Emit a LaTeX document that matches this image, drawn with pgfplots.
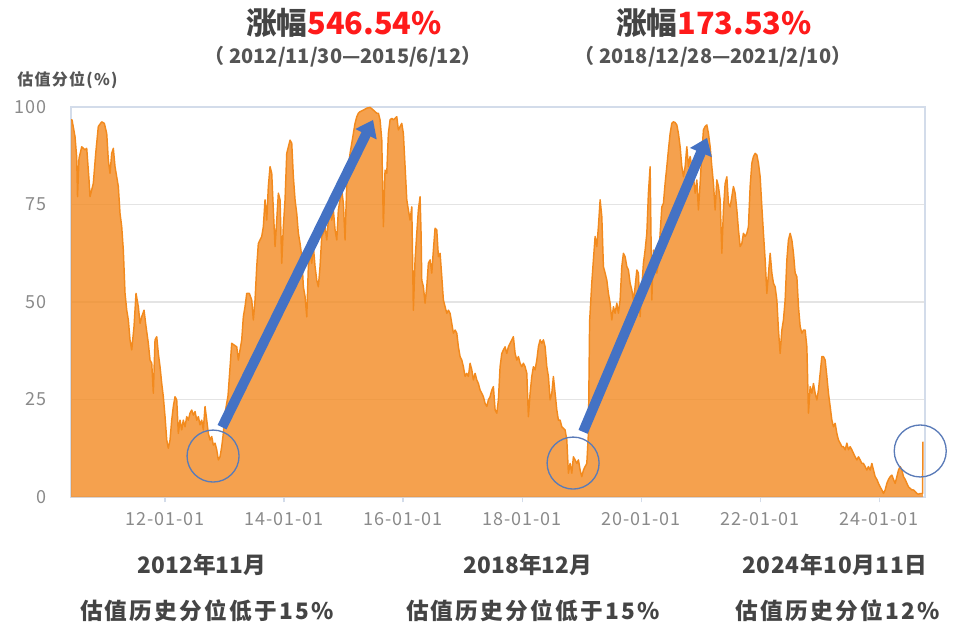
\documentclass[border=0pt]{standalone}
\usepackage{pgfplots}
\pgfplotsset{compat=1.18}
\usepackage{pgfplotstable}
\usetikzlibrary{arrows.meta}
\usepackage{fontspec}
\setmainfont{Noto Sans CJK SC}
\definecolor{lineor}{HTML}{F28A1E}
\definecolor{fillor}{HTML}{F28A22}
\definecolor{arrblue}{HTML}{4472C4}
\definecolor{circblue}{HTML}{5A7BB8}
\definecolor{txtgray}{HTML}{444444}
\definecolor{datgray}{HTML}{555555}
\definecolor{tickgray}{HTML}{8A8A8A}
\definecolor{gridgray}{HTML}{E4E4E4}
\definecolor{axblue}{HTML}{D3DCEA}
\definecolor{titred}{HTML}{FF1A1A}

% px = horizontal position (165 = 2012-01-01, 59.5 per year), v = percentile
\pgfplotstableread{
px v
71 96.7
72 96.7
75 92.4
76.7 87.0
77.5 77.0
79 86.8
81.7 89.8
85 89.0
86.7 89.4
89 81.3
90 77.0
93.3 80.4
95.7 88.1
98.3 95.0
101.7 96.2
104.3 95.8
106.7 93.2
108.3 86.4
110 83.0
111.7 88.1
113.3 89.4
115 84.7
116.7 82.1
118.3 79.6
120 72.7
121.7 69.3
123.3 63.3
125 52.2
126.7 47.9
128.3 45.4
130 40.3
131.7 37.7
134 43.7
136 52.2
138.3 48.8
140 44.5
141.7 46.2
144 47.9
146 43.7
148.3 39.4
150 35.1
151.7 34.3
153.3 26.6
155 40.3
156.7 41.1
158.3 36.8
160 33.4
161.7 29.1
163.3 25.7
165 20.6
166.7 14.6
168.3 12.5
170 14.6
171.7 19.7
173.3 23.2
175 25.7
176.7 24.9
178.3 16.3
180 19.7
181.7 17.2
183.3 19.7
185 18.0
186.7 20.6
188.3 19.7
190 21.5
191.7 22.3
193.3 21.0
195 21.9
196.7 19.7
198.3 20.6
200 18.5
201.7 19.7
203.3 17.2
205 23.2
206.7 19.7
208.3 16.3
210 14.6
211.7 15.5
213.3 13.3
215 13.8
216.7 12.1
218.3 9.5
220 10.3
221.7 12.9
223.3 16.3
225 21.5
228 26.0
231.7 39.4
236.7 38.5
238.3 35.1
241.7 40.3
243.3 46.2
245 48.8
246.7 52.2
249.3 52.2
251.7 50.5
253.3 45.4
255 50.5
256.7 59.1
258.3 65.0
260 65.9
261.7 66.8
263.3 69.3
265 76.2
266.7 71.0
268.3 79.6
270 84.7
271.7 83.0
273.3 73.6
275 64.2
276.7 71.0
278.3 77.9
280 76.2
281.7 59.9
283.3 69.3
285 76.2
286.7 88.1
290 91.5
291.7 90.7
293.3 82.1
295 76.2
296.7 72.7
298.3 67.6
300 65.0
301.7 61.6
303.3 53.9
305 51.4
306.7 46.2
308.3 59.1
310 62.5
311.7 59.9
313.3 64.2
315 59.1
316.7 55.6
318.3 53.9
320 59.1
321.7 66.8
323.3 67.6
325 69.3
326.7 65.9
328.3 71.0
330 72.7
331.7 71.0
333.3 73.6
335 68.5
336.7 65.9
338.3 73.6
340 76.2
341.7 78.7
343.3 75.3
345 65.9
346.7 80.4
348.3 84.7
350 88.1
351.7 90.7
353.3 93.2
355 95.8
356.7 97.5
358.3 98.4
360 98.8
363.3 99.2
366.7 99.7
370 99.9
373.3 99.2
376.7 98.4
378.3 98.4
380 96.7
381.7 91.5
383.3 69.3
385 83.8
386.7 83.0
388.3 93.2
390 96.7
391.7 97.1
393.3 96.7
395 97.1
396.7 97.5
398.3 94.1
400 95.0
401.7 95.8
403.3 93.2
405 84.7
406.7 76.2
408.3 73.6
410 71.0
411.7 74.4
413.3 47.9
415 60.8
416.7 67.6
418.3 73.6
420 77.0
421 67.6
421.7 55.6
423.3 53.9
425 49.7
426.7 53.9
428.3 59.9
430 60.8
431.7 57.4
433.3 63.3
435 68.9
436.7 68.5
438.3 61.6
440 62.5
441.7 56.5
443.3 50.5
445 48.8
446.7 47.1
448.3 47.9
450 47.1
451.7 44.5
453.3 42.0
455 42.8
456.7 42.0
458.3 38.5
460 36.0
461.7 35.1
463.3 33.4
465 30.9
466.7 31.7
468.3 30.9
470 34.3
471.7 32.6
473.3 30.0
475 31.7
476.7 30.0
478.3 29.1
480 27.4
481.7 26.6
483.3 25.7
485 24.0
486.7 23.2
488.3 24.9
490 25.7
491.7 27.4
493.3 28.3
495 22.3
496.7 21.5
498.3 24.9
500 33.4
501.7 36.8
503.3 37.7
505 38.5
506.7 36.8
508.3 38.5
510 39.4
511.7 40.3
513.3 41.1
515 36.8
516.7 35.1
518.3 36.0
520 34.3
521.7 33.4
523.3 34.3
525 33.4
526.7 31.7
528.3 20.6
530 26.6
531.7 30.9
533.3 33.4
535 32.6
536.7 35.1
538.3 38.5
540 40.3
541.7 39.4
543.3 40.3
545 38.5
546.7 33.4
548.3 30.9
550 24.9
551.7 26.6
553.3 30.9
555 26.6
556.7 22.3
558.3 19.7
560 19.7
561.7 18.0
563.3 17.6
565 17.2
566.7 14.6
568.3 6.1
570 8.6
571.7 6.1
573.3 10.3
575 9.5
576.7 8.6
578.3 9.5
580 6.9
581.7 5.2
583.3 6.9
585 7.8
586.7 8.6
588.3 16.3
589.5 45.0
591.7 55.0
593.3 60.8
595 66.8
596.7 64.2
598.3 69.3
600 76.2
601.7 71.9
603.3 59.1
605 57.4
606.7 55.6
608.3 52.2
610 49.7
611.7 45.4
613.3 48.8
615 47.1
616.7 49.7
618.3 47.1
620 50.5
621.7 59.1
623.3 62.5
625 61.6
626.7 59.1
628.3 58.2
630 54.8
631.7 53.1
633.3 50.5
635 53.9
636.7 58.2
638.3 57.4
640 46.2
641.7 53.9
643.3 59.9
645 63.3
646.7 67.6
648.3 77.9
650 84.7
651.7 50.5
653.3 63.3
655 59.1
656.7 57.4
658.3 59.9
660 67.6
661.7 74.4
663.3 75.3
665 80.4
666.7 84.7
668.3 89.0
670 93.2
671.7 95.8
673.3 96.2
675 96.0
676.7 95.4
678.3 93.2
680 89.8
681.7 84.7
683.3 82.1
685 84.7
686.7 89.8
688.3 84.7
690 87.3
691.7 84.7
693.3 82.1
695 77.9
696.7 81.3
698.3 73.6
700 80.4
701.7 88.1
703.3 94.1
705 95.0
706.7 95.4
708.3 93.2
710 89.8
711.7 84.7
713.3 80.4
715 73.6
716.7 81.3
718.3 79.6
720 76.2
721.7 62.5
723.3 73.6
725 80.4
726.7 82.1
728.3 75.3
730 74.4
731.7 77.0
733.3 79.6
735 77.9
736.7 73.6
738.3 68.5
740 64.2
741.7 65.0
743.3 67.6
745 66.8
746.7 67.6
748.3 69.3
750 79.6
751.7 85.6
753.3 87.3
755 88.1
756.7 87.7
758.3 85.6
760 82.1
761.7 74.4
763.3 67.6
765 60.8
766.7 52.2
770 62.5
771.7 57.4
773.3 54.8
775 53.9
776.7 50.5
778.3 42.8
780 36.8
781.7 42.8
783.3 45.4
785 50.5
786.7 60.8
788.3 65.9
790 67.6
791.7 65.9
793.3 62.5
795 57.4
796.7 56.5
798.3 48.8
800 43.7
801.7 42.0
803.3 42.8
805 42.8
806.7 38.5
808.3 21.5
810 28.3
811.7 26.6
813.3 29.1
815 26.6
816.7 24.9
818.3 27.4
820 31.7
821.7 36.0
823.3 36.0
825 35.1
826.7 30.9
828.3 26.6
830 23.2
831.7 19.7
833.3 18.0
835 18.9
836.7 16.3
838.3 14.6
840 13.8
841.7 12.9
843.3 12.9
845 12.1
846.7 13.8
848.3 12.1
850 12.9
851.7 12.1
853.3 11.2
855 10.3
856.7 9.5
858.3 10.3
860 9.5
861.7 8.6
863.3 8.6
865 7.8
866.7 6.9
868.3 7.8
870 6.9
871.7 8.6
873.3 6.9
875 5.2
876.7 4.5
878.3 3.5
880 2.6
881.7 1.8
883.3 0.9
885 1.8
886.7 3.5
888.3 4.5
890 5.2
891.7 5.6
893.3 4.5
895 3.5
896.7 5.2
898.3 6.9
900 7.8
901.7 6.9
903.3 5.2
905 4.5
906.7 3.5
908.3 2.6
910 2.2
911.7 1.8
913.3 1.8
915 1.4
916.7 0.9
918.3 0.7
920 0.9
921.7 0.9
922.4 0.9
922.8 14.2
}\valdata

\begin{document}
\begin{tikzpicture}[x=0.75pt,y=0.75pt]
\path[use as bounding box] (0,0) rectangle (960,636);
\begin{axis}[
  at={(53.25pt,104.25pt)}, anchor=south west,
  scale only axis, width=640.5pt, height=292.5pt,
  xmin=2010.42, xmax=2024.77, ymin=0, ymax=100,
  axis line style={draw=axblue, line width=0.8pt},
  ymajorgrids, grid style={draw=gridgray, line width=0.9pt},
  ytick={0,25,50,75,100},
  xtick={2012,2014,2016,2018,2020,2022,2024},
  xticklabels={12-01-01,14-01-01,16-01-01,18-01-01,20-01-01,22-01-01,24-01-01},
  xtick pos=bottom, ytick pos=left,
  tick align=outside, major tick length=4pt,
  xtick style={draw=axblue, line width=0.9pt},
  ytick style={draw=none},
  /pgf/number format/assume math mode=true,
  ticklabel style={font=\fontsize{13.5}{15}\selectfont\addfontfeatures{LetterSpace=5}, text=tickgray},
  yticklabel style={xshift=-11pt},
  xticklabel style={yshift=-4pt},
  clip=false,
]
\addplot[draw=none, fill=fillor, fill opacity=0.8]
  table[x expr={2012+(\thisrow{px}-165)/59.5}, y=v]{\valdata} \closedcycle;
\addplot[draw=lineor, line width=1.1pt, line join=round]
  table[x expr={2012+(\thisrow{px}-165)/59.5}, y=v]{\valdata};
\draw[arrblue, line width=7.5pt, -{Triangle[length=12pt,width=17pt]}]
  (axis cs:2012.958,17.9) -- (axis cs:2015.496,96.7);
\draw[arrblue, line width=7.5pt, -{Triangle[length=12pt,width=17pt]}]
  (axis cs:2019.025,16.7) -- (axis cs:2021.109,92.1);
\draw[circblue, line width=1pt] (axis cs:2012.807,10.5) circle[radius=19.5pt];
\draw[circblue, line width=1pt] (axis cs:2018.857,8.7) circle[radius=19.5pt];
\draw[circblue, line width=1pt] (axis cs:2024.69,11.8) circle[radius=19.5pt];
\end{axis}
\node[anchor=west, text=datgray, font=\fontsize{12}{14}\selectfont\bfseries\addfontfeatures{LetterSpace=8}, inner sep=0pt] at (17,556) {估值分位(\%)};
\node[font=\fontsize{23}{26}\selectfont\bfseries, inner sep=0pt] at (344,613) {\textcolor{txtgray}{涨幅}\textcolor{titred}{546.54\%}};
\node[font=\fontsize{15}{17}\selectfont\bfseries, text=datgray, inner sep=0pt] at (343,579) {（ 2012/11/30—2015/6/12）};
\node[font=\fontsize{23}{26}\selectfont\bfseries, inner sep=0pt] at (714,613) {\textcolor{txtgray}{涨幅}\textcolor{titred}{173.53\%}};
\node[font=\fontsize{15}{17}\selectfont\bfseries, text=datgray, inner sep=0pt] at (713,579) {（ 2018/12/28—2021/2/10）};
\node[font=\fontsize{17}{20}\selectfont\bfseries, text=txtgray, inner sep=0pt] at (202,71) {2012年11月};
\node[font=\fontsize{17}{20}\selectfont\bfseries\addfontfeatures{LetterSpace=10}, text=txtgray, inner sep=0pt] at (207,25) {估值历史分位低于15\%};
\node[font=\fontsize{17}{20}\selectfont\bfseries, text=txtgray, inner sep=0pt] at (528,71) {2018年12月};
\node[font=\fontsize{17}{20}\selectfont\bfseries\addfontfeatures{LetterSpace=10}, text=txtgray, inner sep=0pt] at (533,25) {估值历史分位低于15\%};
\node[font=\fontsize{17}{20}\selectfont\bfseries\addfontfeatures{LetterSpace=3}, text=txtgray, inner sep=0pt] at (835,71) {2024年10月11日};
\node[font=\fontsize{17}{20}\selectfont\bfseries\addfontfeatures{LetterSpace=10}, text=txtgray, inner sep=0pt] at (838,25) {估值历史分位12\%};
\end{tikzpicture}
\end{document}
